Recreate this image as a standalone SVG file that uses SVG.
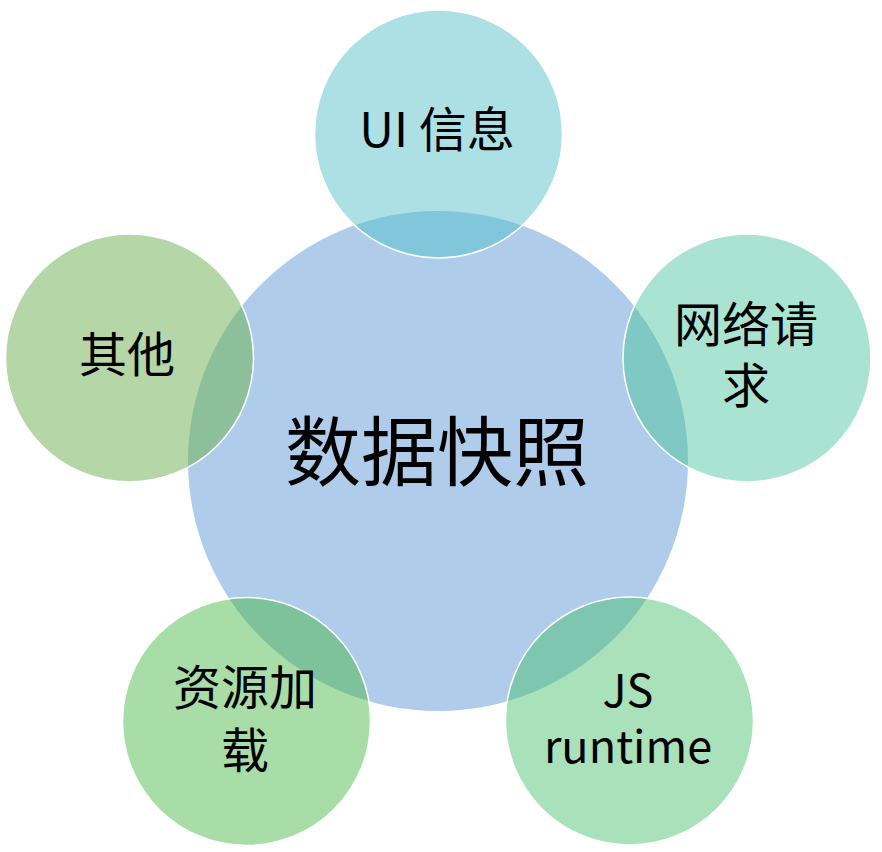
<svg xmlns="http://www.w3.org/2000/svg" width="882" height="852" viewBox="0 0 882 852">
<defs>
<style>
.t{font-family:"Noto Sans CJK SC","Noto Sans",sans-serif;fill:#000;text-anchor:middle}
.s{font-size:48px}
.ring{fill:none;stroke:#fff;stroke-width:1.5}
</style>
<clipPath id="cTop"><circle cx="438.5" cy="134" r="124"/></clipPath>
<clipPath id="cRU"><circle cx="747" cy="358" r="124"/></clipPath>
<clipPath id="cRL"><circle cx="629.5" cy="721" r="124"/></clipPath>
<clipPath id="cLL"><circle cx="246.5" cy="721.5" r="124"/></clipPath>
<clipPath id="cL"><circle cx="129.5" cy="358" r="124"/></clipPath>
</defs>
<rect width="882" height="852" fill="#fff"/>
<g id="connectors"></g>
<g id="main">
<circle cx="438" cy="461" r="250" fill="#AFCCEA"/>
<text class="t" x="437" y="480" font-size="76">数据快照</text>
</g>
<g id="ui">
<circle cx="438.5" cy="134" r="124" fill="#ACE0E5"/>
<circle cx="438" cy="461" r="250" fill="#82C6DC" clip-path="url(#cTop)"/>
<circle class="ring" cx="438.5" cy="134" r="124"/>
<text class="t s" x="437" y="147">UI 信息</text>
</g>
<g id="network">
<circle cx="747" cy="358" r="124" fill="#ABE3D3"/>
<circle cx="438" cy="461" r="250" fill="#80C8C4" clip-path="url(#cRU)"/>
<circle class="ring" cx="747" cy="358" r="124"/>
<text class="t s" x="746" y="342">网络请</text>
<text class="t s" x="746" y="403">求</text>
</g>
<g id="js">
<circle cx="629.5" cy="721" r="124" fill="#A9E1BA"/>
<circle cx="438" cy="461" r="250" fill="#7EC6B0" clip-path="url(#cRL)"/>
<circle class="ring" cx="629.5" cy="721" r="124"/>
<text class="t" x="628" y="707" font-size="45">JS</text>
<text class="t" x="628" y="763" font-size="45">runtime</text>
</g>
<g id="resource">
<circle cx="246.5" cy="721.5" r="124" fill="#A8DDA8"/>
<circle cx="438" cy="461" r="250" fill="#7DC29A" clip-path="url(#cLL)"/>
<circle class="ring" cx="246.5" cy="721.5" r="124"/>
<text class="t s" x="245" y="705">资源加</text>
<text class="t s" x="245" y="768">载</text>
</g>
<g id="other">
<circle cx="129.5" cy="358" r="124" fill="#B5D6A7"/>
<circle cx="438" cy="461" r="250" fill="#8DBF9B" clip-path="url(#cL)"/>
<circle class="ring" cx="129.5" cy="358" r="124"/>
<text class="t s" x="127" y="372">其他</text>
</g>
</svg>
